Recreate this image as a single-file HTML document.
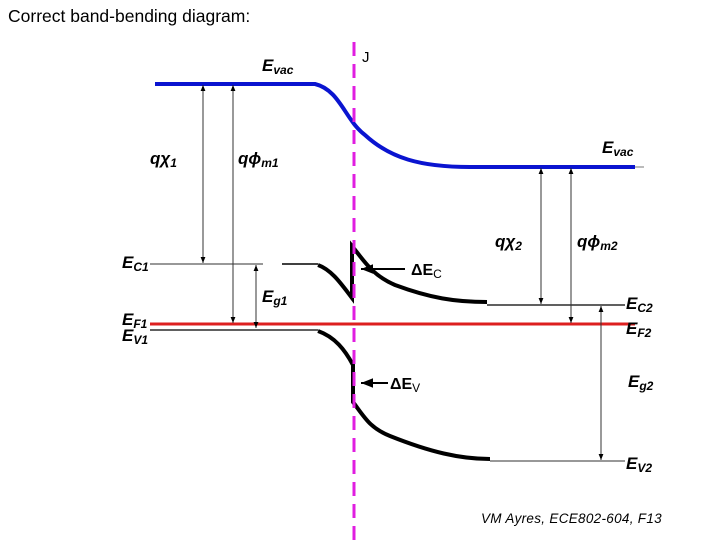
<!DOCTYPE html>
<html><head><meta charset="utf-8"><style>
html,body{margin:0;padding:0;background:#fff}
svg{display:block}
text{font-family:"Liberation Sans",sans-serif;fill:#000}
.lb{font-weight:bold;font-style:italic;font-size:17px}
.sb{font-weight:bold;font-style:italic;font-size:12px}
</style></head><body>
<svg width="720" height="540" viewBox="0 0 720 540" xmlns="http://www.w3.org/2000/svg">
<defs>
<marker id="a" viewBox="0 0 10 10" refX="10" refY="5" markerWidth="6" markerHeight="6" orient="auto-start-reverse"><path d="M0,1 L10,5 L0,9 z" fill="#000"/></marker>
</defs>
<text x="8" y="22" font-size="17.5">Correct band-bending diagram:</text>
<line x1="635" y1="167" x2="644" y2="167" stroke="#777" stroke-width="1"/>
<path d="M155,84 L315,84 C340,90 345,120 365,135 C390,158 420,167 470,167 L635,167" fill="none" stroke="#0a14d0" stroke-width="4"/>
<line x1="150" y1="264" x2="263" y2="264" stroke="#777" stroke-width="1.5"/>
<line x1="282" y1="264" x2="318" y2="264" stroke="#000" stroke-width="1.5"/>
<line x1="150" y1="330" x2="318" y2="330" stroke="#000" stroke-width="1.2"/>
<line x1="487" y1="305" x2="625" y2="305" stroke="#000" stroke-width="1.2"/>
<line x1="490" y1="461" x2="625" y2="461" stroke="#777" stroke-width="1.5"/>
<line x1="150" y1="324" x2="635" y2="324" stroke="#dd1f1f" stroke-width="3"/>
<path d="M318,265 C332,270 342,285 352,298 L352,246 C365,262 372,275 395,285 C430,298 455,302 487,302" fill="none" stroke="#000" stroke-width="4"/>
<path d="M318,331 C335,337 345,350 353,365 L353,402 C365,418 370,428 390,436 C430,452 460,459 490,459" fill="none" stroke="#000" stroke-width="4"/>
<line x1="354" y1="42" x2="354" y2="540" stroke="#e01ee0" stroke-width="3" stroke-dasharray="14,8"/>
<g stroke="#333" stroke-width="1" fill="none">
<line x1="203" y1="85" x2="203" y2="263" marker-start="url(#a)" marker-end="url(#a)"/>
<line x1="233" y1="85" x2="233" y2="323" marker-start="url(#a)" marker-end="url(#a)"/>
<line x1="256" y1="265" x2="256" y2="328" marker-start="url(#a)" marker-end="url(#a)"/>
<line x1="541" y1="168" x2="541" y2="304" marker-start="url(#a)" marker-end="url(#a)"/>
<line x1="571" y1="168" x2="571" y2="323" marker-start="url(#a)" marker-end="url(#a)"/>
<line x1="601" y1="306" x2="601" y2="460" marker-start="url(#a)" marker-end="url(#a)"/>
</g>
<line x1="405" y1="269" x2="361" y2="269" stroke="#000" stroke-width="2" marker-end="url(#a)"/>
<line x1="388" y1="383" x2="361" y2="383" stroke="#000" stroke-width="2" marker-end="url(#a)"/>
<text x="262" y="71" class="lb">E<tspan class="sb" dy="3">vac</tspan></text>
<text x="362" y="62" font-size="15">J</text>
<text x="150" y="164" class="lb">qχ<tspan class="sb" dy="3">1</tspan></text>
<text x="238" y="164" class="lb">qϕ<tspan class="sb" dy="3">m1</tspan></text>
<text x="602" y="153" class="lb">E<tspan class="sb" dy="3">vac</tspan></text>
<text x="495" y="247" class="lb">qχ<tspan class="sb" dy="3">2</tspan></text>
<text x="577" y="247" class="lb">qϕ<tspan class="sb" dy="3">m2</tspan></text>
<text x="122" y="268" class="lb">E<tspan class="sb" dy="3">C1</tspan></text>
<text x="262" y="302" class="lb">E<tspan class="sb" dy="3">g1</tspan></text>
<text x="122" y="325" class="lb">E<tspan class="sb" dy="3">F1</tspan></text>
<text x="122" y="341" class="lb">E<tspan class="sb" dy="3">V1</tspan></text>
<text x="411" y="275" font-size="16" font-weight="bold">ΔE<tspan font-size="12" font-weight="normal" dy="3">C</tspan></text>
<text x="390" y="389" font-size="16" font-weight="bold">ΔE<tspan font-size="12" font-weight="normal" dy="3">V</tspan></text>
<text x="626" y="309" class="lb">E<tspan class="sb" dy="3">C2</tspan></text>
<text x="626" y="334" class="lb">E<tspan class="sb" dy="3">F2</tspan></text>
<text x="628" y="387" class="lb">E<tspan class="sb" dy="3">g2</tspan></text>
<text x="626" y="469" class="lb">E<tspan class="sb" dy="3">V2</tspan></text>
<text x="481" y="523" font-size="13.5" font-style="italic" letter-spacing="0.3">VM Ayres, ECE802-604, F13</text>
</svg>
</body></html>
